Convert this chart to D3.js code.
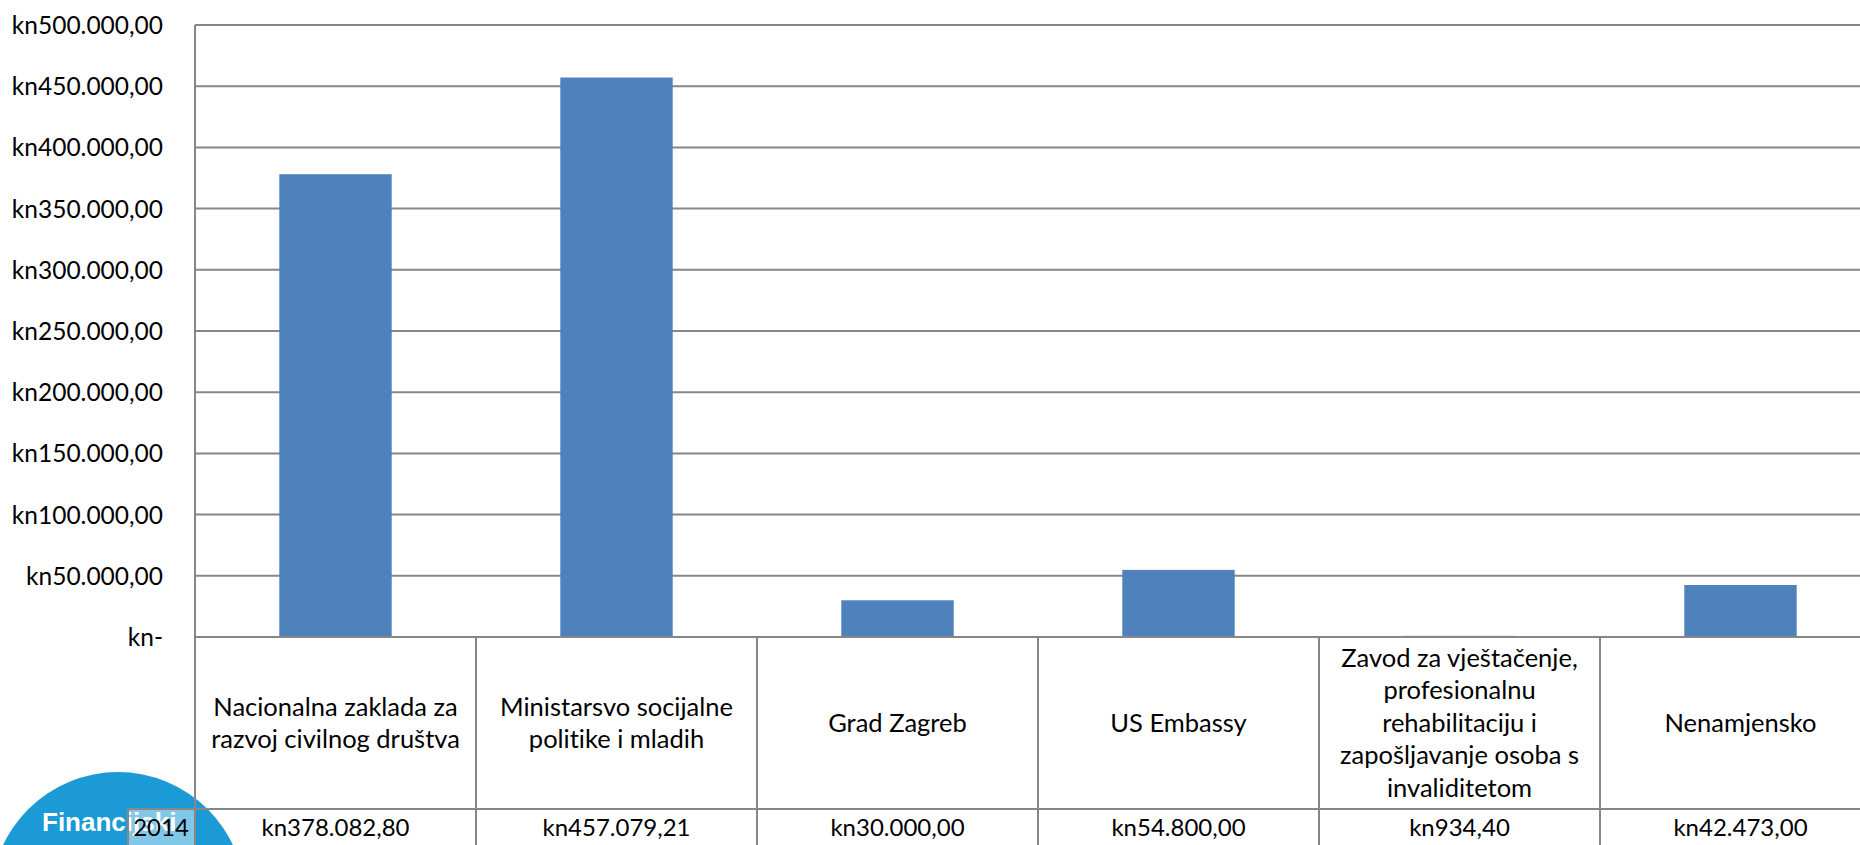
<!DOCTYPE html>
<html>
<head>
<meta charset="utf-8">
<script src="https://cdn.jsdelivr.net/npm/d3@7"></script>
<style>
  html, body { margin: 0; padding: 0; background: #fff; overflow: hidden; }
  svg { display: block; font-family: Lato, "Open Sans", sans-serif; font-variant-ligatures: none; }
</style>
</head>
<body>
<svg id="chart" width="1860" height="845"></svg>
<script>
// Data
const categories = [
  'Nacionalna zaklada za razvoj civilnog društva',
  'Ministarsvo socijalne politike i mladih',
  'Grad Zagreb',
  'US Embassy',
  'Zavod za vještačenje, profesionalnu rehabilitaciju i zapošljavanje osoba s invaliditetom',
  'Nenamjensko'
];
const categoryLines = [
  ['Nacionalna zaklada za', 'razvoj civilnog društva'],
  ['Ministarsvo socijalne', 'politike i mladih'],
  ['Grad Zagreb'],
  ['US Embassy'],
  ['Zavod za vještačenje,', 'profesionalnu', 'rehabilitaciju i', 'zapošljavanje osoba s', 'invaliditetom'],
  ['Nenamjensko']
];
const values2014 = [378082.80, 457079.21, 30000.00, 54800.00, 934.40, 42473.00];
const seriesName = '2014';
const yTicks = [0, 50000, 100000, 150000, 200000, 250000, 300000, 350000, 400000, 450000, 500000];

// Layout
const PLOT_LEFT = 195;
const PLOT_TOP = 25;
const ZERO_Y = 637;
const COL_W = 281;
const ROW_Y = 809;
const BOTTOM = 845;
const W = 1860;
const LINE_COLOR = '#878787';
const BAR_COLOR = '#4f81bd';
const NUM_SIZE = 24;
const LABEL_SIZE = 25.5;

const svg = d3.select('#chart');

const kn = d3.formatLocale({ decimal: ',', thousands: '.', grouping: [3], currency: ['kn', ''] });
const fmt = v => v === 0 ? 'kn-' : kn.format('$,.2f')(v);

const y = d3.scaleLinear().domain([0, 500000]).range([ZERO_Y, PLOT_TOP]);
const xCol = d3.scaleBand().domain(categories).range([PLOT_LEFT, PLOT_LEFT + COL_W * categories.length]);
const xBar = d3.scaleBand().domain(categories)
  .range([PLOT_LEFT, PLOT_LEFT + COL_W * categories.length])
  .paddingInner(0.6).paddingOuter(0.3);

// Logo (behind the table)
const logo = svg.append('g');
logo.append('circle').attr('cx', 118).attr('cy', 899).attr('r', 127).attr('fill', '#1b9ad6');
logo.append('text')
  .attr('x', 42).attr('y', 831)
  .attr('fill', '#fff').attr('font-weight', 700)
  .attr('font-family', '"Liberation Sans", Arial, sans-serif')
  .attr('font-size', 26)
  .text('Financijski');
// series cell partly covers the logo
svg.append('rect')
  .attr('x', 128).attr('y', ROW_Y).attr('width', PLOT_LEFT - 128).attr('height', BOTTOM - ROW_Y)
  .attr('fill', '#fff').attr('fill-opacity', 0.45);

// Gridlines + y labels
const yAxis = d3.axisLeft(y).tickValues(yTicks).tickSize(0).tickPadding(0).tickFormat(fmt);
const gy = svg.append('g').attr('transform', `translate(${PLOT_LEFT},0)`).call(yAxis);
gy.select('.domain').remove();
gy.selectAll('text')
  .attr('x', 163 - PLOT_LEFT)
  .attr('dy', '0.35em')
  .attr('font-size', NUM_SIZE + 0.5)
  .attr('font-family', 'Lato, sans-serif')
  .attr('fill', '#000');

svg.append('g').selectAll('line')
  .data(yTicks.filter(d => d > 0))
  .join('line')
  .attr('x1', PLOT_LEFT).attr('x2', W)
  .attr('y1', d => y(d)).attr('y2', d => y(d))
  .attr('stroke', LINE_COLOR).attr('stroke-width', 2);

// Bars
svg.append('g').selectAll('rect')
  .data(values2014)
  .join('rect')
  .attr('x', (d, i) => xBar(categories[i]))
  .attr('width', xBar.bandwidth())
  .attr('y', d => y(d))
  .attr('height', d => ZERO_Y - y(d))
  .attr('fill', BAR_COLOR);

// Data table lines
const table = svg.append('g').attr('stroke', LINE_COLOR).attr('stroke-width', 2);
table.append('line').attr('x1', PLOT_LEFT).attr('x2', W).attr('y1', ZERO_Y).attr('y2', ZERO_Y);
table.append('line').attr('x1', 128).attr('x2', W).attr('y1', ROW_Y).attr('y2', ROW_Y);
table.append('line').attr('x1', PLOT_LEFT).attr('x2', PLOT_LEFT).attr('y1', PLOT_TOP).attr('y2', BOTTOM);
table.append('line').attr('x1', 128).attr('x2', 128).attr('y1', ROW_Y).attr('y2', BOTTOM);
table.selectAll('.col-div')
  .data(categories.slice(1))
  .join('line')
  .attr('class', 'col-div')
  .attr('x1', d => xCol(d)).attr('x2', d => xCol(d))
  .attr('y1', ZERO_Y).attr('y2', BOTTOM);

// Category labels
const lineH = 32.5;
const headerMid = (ZERO_Y + ROW_Y) / 2;
const labels = svg.append('g').attr('font-size', LABEL_SIZE).attr('text-anchor', 'middle').attr('fill', '#000');
labels.selectAll('text')
  .data(categoryLines)
  .join('text')
  .attr('transform', (d, i) => `translate(${xCol(categories[i]) + xCol.bandwidth() / 2},${headerMid})`)
  .each(function (lines) {
    const t = d3.select(this);
    lines.forEach((ln, j) => {
      t.append('tspan')
        .attr('x', 0)
        .attr('y', (j - (lines.length - 1) / 2) * lineH)
        .attr('dy', '0.35em')
        .text(ln);
    });
  });

// Values row
const valueMid = (ROW_Y + BOTTOM) / 2 + 0.5;
svg.append('g').attr('font-size', NUM_SIZE).attr('text-anchor', 'middle')
  .selectAll('text')
  .data(values2014)
  .join('text')
  .attr('x', (d, i) => xCol(categories[i]) + xCol.bandwidth() / 2)
  .attr('y', valueMid)
  .attr('dy', '0.35em')
  .text(d => fmt(d));

svg.append('text')
  .attr('x', 161).attr('y', valueMid).attr('dy', '0.35em')
  .attr('text-anchor', 'middle')
  .attr('font-size', NUM_SIZE)
  .text(seriesName);
</script>
</body>
</html>
